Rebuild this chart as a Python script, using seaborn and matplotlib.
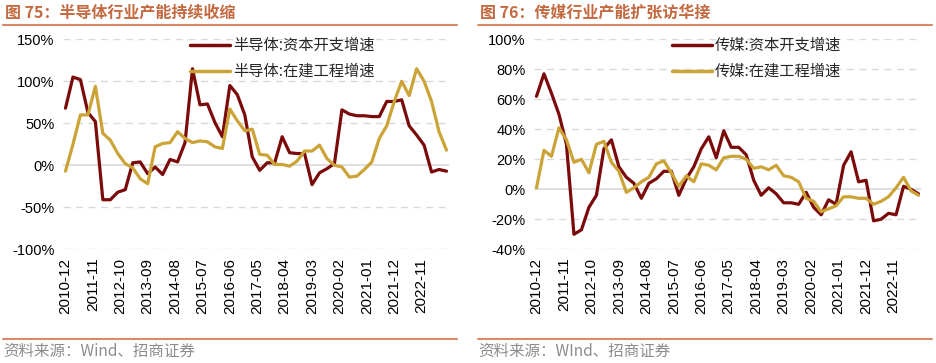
import numpy as np
import pandas as pd
import matplotlib
matplotlib.use("Agg")
import matplotlib.pyplot as plt
import seaborn as sns

# ---------------- data ----------------
start_month = "2010-12"
n_points = 52  # quarterly observations
tick_labels = ["2010-12", "2011-11", "2012-10", "2013-09", "2014-08", "2015-07", "2016-06",
               "2017-05", "2018-04", "2019-03", "2020-02", "2021-01", "2021-12", "2022-11"]

semi_capex = [68, 105, 102, 63, 52, -41, -41, -32, -29, 3, 4, -10, -2, -11, 7, 4, 27, 115,
              72, 73, 51, 34, 95, 84, 60, 10, -6, 3, 3, 34, 15, 14, 14, -23, -9, -4, 2, 66,
              61, 59, 59, 58, 58, 76, 76, 78, 47, 36, 24, -8, -5, -7]
semi_cip = [-7, 25, 60, 60, 94, 38, 30, 14, 2, -3, -16, -22, 22, 26, 27, 40, 32, 27, 29, 28,
            22, 20, 67, 53, 41, 43, 13, 12, 1, 1, -1, 5, 17, 17, 24, 8, 0, -2, -14, -13, -5,
            4, 32, 47, 76, 100, 83, 115, 100, 76, 40, 18]
media_capex = [62, 77, 64, 50, 30, -30, -27, -12, -4, 27, 33, 15, 8, 4, -6, 4, 7, 12, 12, -4,
               7, 15, 27, 35, 21, 39, 28, 28, 23, 6, -4, 1, -3, -9, -9, -10, -2, -12, -17, -7,
               -10, 16, 25, 5, 6, -21, -20, -16, -17, 2, 0, -3]
media_cip = [1, 26, 22, 41, 33, 18, 20, 11, 30, 32, 18, 12, -2, 1, 5, 8, 17, 19, 11, 2, 9, 5,
             17, 16, 13, 21, 22, 22, 20, 14, 15, 13, 16, 9, 8, 5, -6, -8, -15, -13, -11, -5,
             -5, -6, -6, -10, -8, -5, 1, 8, -1, -4]

panels = [
    dict(title="图 75：半导体行业产能持续收缩",
         names=["半导体:资本开支增速", "半导体:在建工程增速"],
         series=[semi_capex, semi_cip],
         yticks=[-100, -50, 0, 50, 100, 150],
         source="资料来源：Wind、招商证券"),
    dict(title="图 76：传媒行业产能扩张访华接",
         names=["传媒:资本开支增速", "传媒:在建工程增速"],
         series=[media_capex, media_cip],
         yticks=[-40, -20, 0, 20, 40, 60, 80, 100],
         source="资料来源：WInd、招商证券"),
]

# ---------------- style ----------------
sns.set_theme(style="white")
plt.rcParams['font.family'] = ['Liberation Sans', 'Noto Sans CJK SC', 'DejaVu Sans']
CJK = ['Noto Sans CJK SC', 'DejaVu Sans']
RED = "#7B0A0A"
GOLD = "#CBA336"
RULE = "#D98A68"
TITLE_C = "#C4693F"

W, H = 937, 363
fig = plt.figure(figsize=(W / 100, H / 100), dpi=100)

dates = pd.date_range(start=start_month + "-01", periods=n_points, freq="3MS")
base = pd.Timestamp(start_month + "-01")
months = [(d.year - base.year) * 12 + (d.month - base.month) for d in dates]
tick_pos = [(pd.Timestamp(t + "-01").year - base.year) * 12 +
            (pd.Timestamp(t + "-01").month - base.month) for t in tick_labels]

layout = [
    dict(ax_left=63, ax_right=449, rule_l=3, rule_r=457, text_x=5, leg_x=190),
    dict(ax_left=534, ax_right=921, rule_l=478, rule_r=932, text_x=480, leg_x=672),
]

ax_top, ax_bottom = 39.3, 249.3

for p, L in zip(panels, layout):
    ax = fig.add_axes([L["ax_left"] / W, 1 - ax_bottom / H,
                       (L["ax_right"] - L["ax_left"]) / W, (ax_bottom - ax_top) / H])
    df = pd.concat([pd.DataFrame({"month": months, "value": s, "series": n})
                    for n, s in zip(p["names"], p["series"])])
    sns.lineplot(data=df, x="month", y="value", hue="series", palette=[RED, GOLD],
                 linewidth=2.3, ax=ax, legend=False, sort=False)
    yt = p["yticks"]
    ax.set_ylim(yt[0], yt[-1])
    ax.set_xlim(-1, 154)
    ax.set_yticks(yt)
    ax.set_yticklabels([f"{v}%" for v in yt], fontsize=10.5, color="#000000")
    ax.set_xticks(tick_pos)
    ax.set_xticklabels(tick_labels, rotation=90, fontsize=11, color="#000000")
    ax.tick_params(axis="both", length=0, pad=6)
    ax.tick_params(axis="x", pad=6)
    ax.set_xlabel("")
    ax.set_ylabel("")
    for sp in ax.spines.values():
        sp.set_visible(False)
    for v in yt:
        if v == 0:
            ax.axhline(v, color="#D9D9D9", lw=1.2, zorder=0)
        else:
            ax.axhline(v, color="#D9D9D9", lw=1.0, ls=(0, (5, 4)), zorder=0)
    handles = [plt.Line2D([], [], color=RED, lw=2.5), plt.Line2D([], [], color=GOLD, lw=2.5)]
    leg_x = (L["leg_x"] - L["ax_left"]) / (L["ax_right"] - L["ax_left"])
    ax.legend(handles, p["names"], loc="upper left", bbox_to_anchor=(leg_x, 1.01),
              frameon=False, prop={"family": CJK, "size": 11}, handlelength=2.6,
              handletextpad=0.2, labelspacing=0.58, borderpad=0, borderaxespad=0)

    # title & rules
    fig.text(L["text_x"] / W, 1 - 13 / H, p["title"], fontsize=11.5, fontweight="bold",
             color=TITLE_C, family=CJK, va="center", ha="left")
    fig.add_artist(plt.Line2D([L["rule_l"] / W, L["rule_r"] / W], [1 - 25 / H, 1 - 25 / H],
                              color=RULE, lw=1.5))
    fig.add_artist(plt.Line2D([L["rule_l"] / W, L["rule_r"] / W], [1 - 339 / H, 1 - 339 / H],
                              color=RULE, lw=1.5))
    fig.text(L["text_x"] / W - 2 / W, 1 - 351 / H, p["source"], fontsize=11.2, color="#8C8C8C",
             family=CJK, va="center", ha="left")

fig.savefig("out.png", dpi=100, facecolor="white")
